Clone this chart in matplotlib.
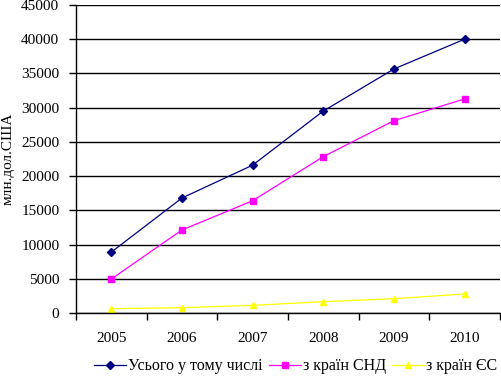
import numpy as np
import matplotlib.pyplot as plt

years = ["2005", "2006", "2007", "2008", "2009", "2010"]
total = [8900, 16800, 21600, 29500, 35650, 40000]
cis = [4970, 12130, 16400, 22840, 28100, 31270]
eu = [630, 780, 1120, 1650, 2090, 2780]

plt.rcParams['font.family'] = ['Liberation Serif', 'DejaVu Serif']

fig = plt.figure(figsize=(5.01, 3.85), dpi=100)
ax = fig.add_axes([0.1517, 0.187, 0.846, 0.8])

x = np.arange(len(years))
ax.plot(x, total, color="#000080", lw=0.9, marker="D", ms=4, label="Усього у тому числі")
ax.plot(x, cis, color="#ff00ff", lw=0.9, marker="s", ms=5, label="з країн СНД")
ax.plot(x, eu, color="#ffff00", lw=0.9, marker="^", ms=5, label="з країн ЄС")

ax.set_xlim(-0.5, len(years) - 0.5)
ax.set_ylim(0, 45000)
ax.set_yticks(np.arange(0, 45001, 5000))
ax.yaxis.grid(True, color="black", lw=1)
ax.set_axisbelow(True)

ax.set_xticks(x)
ax.set_xticklabels(years)
ax.set_xticks(np.arange(-0.5, len(years), 1), minor=True)
ax.tick_params(axis="x", which="major", length=0, pad=14, labelsize=11)
ax.tick_params(axis="x", which="minor", length=5, width=1)
ax.tick_params(axis="y", length=5, width=1, labelsize=11, pad=7)

for s in ["top", "right"]:
    ax.spines[s].set_visible(False)
ax.spines["left"].set_linewidth(1)
ax.spines["bottom"].set_linewidth(1)

ax.set_ylabel("млн.дол.США", fontsize=11)
ax.yaxis.set_label_coords(-0.145, 0.5)

fig.legend(loc="lower center", ncol=3, frameon=False, fontsize=11.5,
           bbox_to_anchor=(0.59, -0.01), handlelength=2.0, handletextpad=0.1,
           columnspacing=0.4)

fig.savefig("out.png", dpi=100)
